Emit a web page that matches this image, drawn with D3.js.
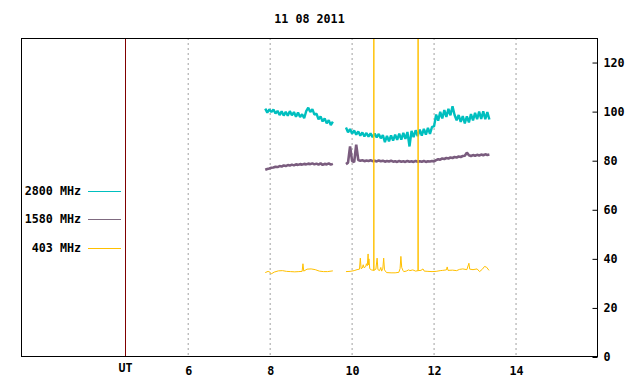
<!DOCTYPE html>
<html><head><meta charset="utf-8">
<script src="https://cdn.jsdelivr.net/npm/d3@7"></script>
<style>body{margin:0;background:#fff}svg{display:block}text{font-family:"DejaVu Sans Mono",monospace;font-weight:bold;font-size:11.7px}</style>
</head><body><svg id="c" width="640" height="384"></svg>
<script>
const title = "11 08 2011";
const xTicks = [6, 8, 10, 12, 14];
const yTicks = [0, 20, 40, 60, 80, 100, 120];
const utMark = 4.47;
const seriesNames = ["2800 MHz", "1580 MHz", "403 MHz"];
const seriesColors = ["#00bfbf", "#7a5c7e", "#ffc000"];
// regular 0.05 h sampling: segment start times
const step = 0.05;
const seg1Start = 7.88, seg2Start = 9.85;
const mhz2800a = [101.2,99.6,100.9,99.8,100.9,99.2,100.3,98.6,100.1,98.4,99.9,98.3,100.2,98.5,99.8,97.9,99.6,97.8,98.9,97.3,100.2,101.6,99.8,101.0,98.8,99.2,96.9,98.0,96.0,97.2,95.2,96.5,94.5,95.9];
const mhz2800b = [93.5,91.6,92.9,91.0,92.3,90.6,91.9,90.2,91.5,89.9,91.3,89.8,91.1,89.6,91.0,89.5,90.9,89.1,90.4,87.6,90.1,87.9,90.3,88.2,90.6,88.5,91.0,88.6,91.3,88.9,91.7,85.8,92.1,89.6,92.4,90.0,92.7,90.2,93.0,90.6,93.4,90.9,93.8,94.0,98.8,96.3,99.9,97.2,100.6,97.8,101.1,98.5,102.2,98.6,96.5,98.6,95.8,98.2,95.2,98.1,95.6,99.0,96.4,99.5,96.9,100.0,97.0,100.1,96.9,99.8,96.8];
const mhz1580a = [76.3,76.6,76.8,77.1,77.2,77.5,77.4,77.8,77.6,78.1,77.8,78.2,78.0,78.4,78.1,78.5,78.3,78.6,78.4,78.7,78.5,78.8,78.6,78.9,78.5,78.8,78.4,78.9,78.3,78.7,78.5,78.9,78.4,78.7];
const mhz1580b = [78.6,79.2,85.8,79.8,79.4,86.5,80.3,80.0,80.2,79.8,80.1,79.9,80.2,79.8,80.0,79.7,80.1,79.8,80.0,79.6,79.9,79.7,80.0,79.6,79.8,79.5,79.9,79.6,79.8,79.5,79.9,79.6,79.8,79.5,79.9,79.6,79.8,79.6,79.9,79.5,79.8,79.7,79.9,79.7,80.2,80.6,80.4,80.9,80.7,81.1,80.9,81.3,81.1,81.5,81.3,81.7,81.5,81.9,82.0,83.3,82.2,81.9,82.3,82.0,82.4,82.1,82.5,82.2,82.6,82.3,82.5];
const mhz403a = [[7.88,34.4],[7.95,34.9],[8.0,34.5],[8.03,33.9],[8.1,34.6],[8.2,35.1],[8.3,35.2],[8.4,34.9],[8.5,34.8],[8.6,34.7],[8.7,34.8],[8.78,34.9],[8.80,38.0],[8.82,35.0],[8.9,35.8],[9.0,35.9],[9.1,35.6],[9.2,35.0],[9.3,34.8],[9.4,34.8],[9.53,35.1]];
const mhz403b = [[9.85,34.8],[9.95,34.9],[10.05,35.2],[10.12,35.6],[10.18,35.8],[10.20,40.3],[10.22,36.0],[10.25,36.3],[10.27,37.6],[10.29,36.4],[10.33,36.8],[10.35,38.0],[10.37,37.2],[10.39,42.0],[10.40,37.5],[10.41,40.0],[10.43,36.0],[10.47,35.5],[10.53,35.3],[10.53,200],[10.53,35.3],[10.58,35.8],[10.61,40.3],[10.63,35.6],[10.67,35.2],[10.70,36.5],[10.72,35.0],[10.75,36.2],[10.77,40.3],[10.79,35.5],[10.84,34.4],[10.95,34.3],[11.05,34.3],[11.14,34.5],[11.17,36.0],[11.19,41.0],[11.21,36.5],[11.24,35.3],[11.26,34.8],[11.32,35.0],[11.38,35.5],[11.41,35.2],[11.48,35.5],[11.55,35.0],[11.61,35.2],[11.61,200],[11.61,35.2],[11.68,35.3],[11.73,35.9],[11.76,35.0],[11.85,34.9],[11.95,34.8],[12.05,34.9],[12.15,35.2],[12.21,35.3],[12.30,35.5],[12.32,36.7],[12.34,35.3],[12.45,35.4],[12.55,35.2],[12.62,35.7],[12.70,35.9],[12.80,35.6],[12.85,38.2],[12.87,35.8],[12.95,35.6],[13.05,35.9],[13.11,34.8],[13.18,35.8],[13.23,36.9],[13.28,36.6],[13.34,35.3]];

const L = 21, R = 598, T = 38, B = 357;
const svg = d3.select("#c");
const x = d3.scaleLinear().domain([1.92, 16]).range([L, R]);
const y = d3.scaleLinear().domain([0, 130]).range([B, T]);

svg.append("defs").append("clipPath").attr("id","clip").append("rect")
  .attr("x",L).attr("y",T).attr("width",R-L).attr("height",B-T);

svg.append("text").attr("x",(L+R)/2).attr("y",23).attr("text-anchor","middle").text(title);

// grid
svg.append("g").selectAll("line").data(xTicks).join("line")
  .attr("x1",d=>x(d)).attr("x2",d=>x(d)).attr("y1",T).attr("y2",B)
  .attr("stroke","#a0a0a0").attr("stroke-dasharray","2,3").attr("stroke-width",1);

// UT marker
svg.append("line").attr("x1",Math.round(x(utMark))+0.5).attr("x2",Math.round(x(utMark))+0.5)
  .attr("y1",T).attr("y2",B).attr("stroke","#800000").attr("stroke-width",1);

const toPts = (start, vals) => vals.map((v,i)=>[start+i*step, v]);
const line = d3.line().x(d=>x(d[0])).y(d=>y(d[1]));
const g = svg.append("g").attr("clip-path","url(#clip)");
const segs = [
  [toPts(seg1Start, mhz1580a), 1, 2.6],
  [toPts(seg2Start, mhz1580b), 1, 2.6],
  [toPts(seg1Start, mhz2800a), 0, 2.4],
  [toPts(seg2Start, mhz2800b), 0, 2.4],
  [mhz403a, 2, 1],
  [mhz403b, 2, 1]
];
segs.forEach(([pts, ci, w]) => {
  g.append("path").attr("d", line(pts)).attr("fill","none")
   .attr("stroke", seriesColors[ci]).attr("stroke-width", w).attr("stroke-linejoin","bevel");
});

// frame
svg.append("rect").attr("x",L+0.5).attr("y",T+0.5).attr("width",R-L-1).attr("height",B-T-1)
  .attr("fill","none").attr("stroke","#000");

// right axis
const ya = svg.append("g").attr("transform",`translate(${R-0.5},0)`)
  .call(d3.axisRight(y).tickValues(yTicks).tickSizeInner(-5).tickSizeOuter(0).tickPadding(6));
ya.select(".domain").remove();
ya.selectAll("text").attr("font-family",null).attr("font-size",null);

// bottom axis
const xa = svg.append("g").attr("transform",`translate(0,${B})`)
  .call(d3.axisBottom(x).tickValues(xTicks).tickSize(0).tickPadding(10).tickFormat(d3.format("d")));
xa.select(".domain").remove();
xa.selectAll("text").attr("font-family",null).attr("font-size",null);
svg.append("text").attr("x",x(utMark)).attr("y",372).attr("text-anchor","middle").text("UT");

// legend
const ly = [195, 223, 252];
seriesNames.forEach((n,i)=>{
  svg.append("text").attr("x",81).attr("y",ly[i]).attr("text-anchor","end").text(n);
  svg.append("line").attr("x1",88).attr("x2",121).attr("y1",ly[i]-3.5).attr("y2",ly[i]-3.5)
    .attr("stroke", i===1 ? "#7f6a80" : seriesColors[i]).attr("stroke-width",1);
});
</script></body></html>
